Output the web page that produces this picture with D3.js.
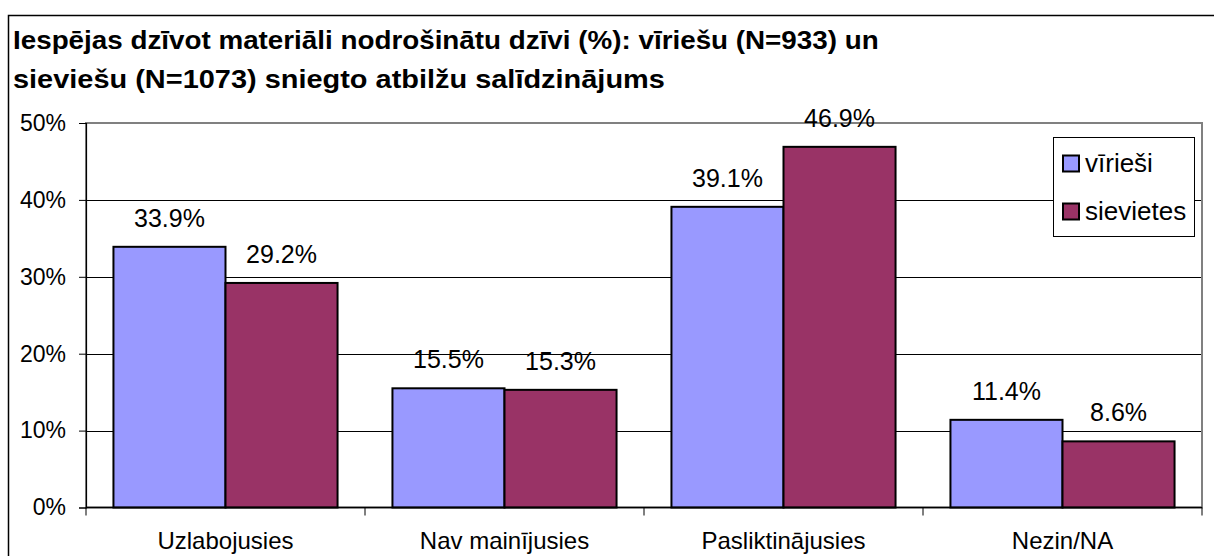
<!DOCTYPE html>
<html>
<head>
<meta charset="utf-8">
<script src="https://cdn.jsdelivr.net/npm/d3@7"></script>
<style>
  html, body { margin: 0; padding: 0; background: #fff; }
  svg { display: block; font-family: Arial, "Liberation Sans", sans-serif; }
</style>
</head>
<body>
<svg id="chart" width="1214" height="556"></svg>
<script>
const titleLines = [
  "Iespējas dzīvot materiāli nodrošinātu dzīvi (%): vīriešu (N=933) un",
  "sieviešu (N=1073) sniegto atbilžu salīdzinājums"
];
const categories = ["Uzlabojusies", "Nav mainījusies", "Pasliktinājusies", "Nezin/NA"];
const seriesNames = ["vīrieši", "sievietes"];
const valuesMen = [33.9, 15.5, 39.1, 11.4];
const valuesWomen = [29.2, 15.3, 46.9, 8.6];
const yTicks = [0, 10, 20, 30, 40, 50];
const colors = ["#9999FF", "#993366"];

const svg = d3.select("#chart");
const W = 1214, H = 556;
const plot = { left: 86, right: 1202, top: 123, bottom: 507.5 };

// outer chart frame (cropped at right/bottom)
svg.append("path")
  .attr("d", `M8.5,${H + 2}V15.5H${W + 2}`)
  .attr("fill", "none").attr("stroke", "#000").attr("stroke-width", 1.5);

// title (each line stretched to the reference's width)
const titleWidths = [866, 652];
svg.append("g").selectAll("text").data(titleLines).join("text")
  .attr("x", 13).attr("y", (d, i) => 49 + i * 39.5)
  .attr("font-size", 26).attr("font-weight", "bold").attr("fill", "#000")
  .text(d => d)
  .each(function(d, i) {
    const w = this.getComputedTextLength();
    if (w > 0) {
      const s = titleWidths[i] / w;
      d3.select(this).attr("transform", `translate(13,0) scale(${s},1) translate(-13,0)`);
    }
  });

const y = d3.scaleLinear().domain([0, 50]).range([plot.bottom, plot.top]);
const x0 = d3.scaleBand().domain(categories).range([plot.left, plot.right]).padding(0);
const x1 = d3.scaleBand().domain(seriesNames).range([0, x0.bandwidth()])
  .paddingInner(0).paddingOuter(0.245);

// gridlines
svg.append("g").selectAll("line").data(yTicks.filter(t => t > 0 && t < 50)).join("line")
  .attr("x1", plot.left).attr("x2", plot.right)
  .attr("y1", d => Math.round(y(d)) + 0.5).attr("y2", d => Math.round(y(d)) + 0.5)
  .attr("stroke", "#000").attr("stroke-width", 1);

// plot area border (gray)
svg.append("rect")
  .attr("x", plot.left).attr("y", plot.top)
  .attr("width", plot.right - plot.left).attr("height", plot.bottom - plot.top)
  .attr("fill", "none").attr("stroke", "#808080").attr("stroke-width", 2);

// y axis
const yAxis = d3.axisLeft(y).tickValues(yTicks).tickSize(7).tickPadding(13)
  .tickFormat(d => d + "%");
const gy = svg.append("g").attr("transform", `translate(${plot.left},0)`).call(yAxis);
gy.select(".domain").attr("stroke", "#000").attr("stroke-width", 1.2);
gy.selectAll(".tick line").attr("stroke", "#000");
gy.selectAll(".tick text").attr("font-size", 23).attr("fill", "#000")
  .attr("font-family", "Arial, 'Liberation Sans', sans-serif");

// bars
const data = categories.map((c, i) => ({ cat: c, vals: [valuesMen[i], valuesWomen[i]] }));
const groups = svg.append("g").selectAll("g").data(data).join("g")
  .attr("transform", d => `translate(${x0(d.cat)},0)`);
groups.selectAll("rect").data(d => d.vals.map((v, j) => ({ s: seriesNames[j], v, j }))).join("rect")
  .attr("x", d => x1(d.s)).attr("width", x1.bandwidth())
  .attr("y", d => y(d.v)).attr("height", d => y(0) - y(d.v))
  .attr("fill", d => colors[d.j]).attr("stroke", "#000").attr("stroke-width", 2);
groups.selectAll("text").data(d => d.vals.map((v, j) => ({ s: seriesNames[j], v, j }))).join("text")
  .attr("x", d => x1(d.s) + x1.bandwidth() / 2)
  .attr("y", d => y(d.v) - 20)
  .attr("text-anchor", "middle").attr("font-size", 25).attr("fill", "#000")
  .text(d => d.v.toFixed(1) + "%");

// x axis
svg.append("line").attr("x1", plot.left).attr("x2", plot.right)
  .attr("y1", plot.bottom).attr("y2", plot.bottom)
  .attr("stroke", "#000").attr("stroke-width", 1.5);
const boundaries = categories.map(c => x0(c)).concat([plot.right]);
svg.append("g").selectAll("line").data(boundaries).join("line")
  .attr("x1", d => d).attr("x2", d => d)
  .attr("y1", plot.bottom).attr("y2", plot.bottom + 8)
  .attr("stroke", "#000").attr("stroke-width", 1);
svg.append("g").selectAll("text").data(categories).join("text")
  .attr("x", d => x0(d) + x0.bandwidth() / 2).attr("y", 549)
  .attr("text-anchor", "middle").attr("font-size", 24).attr("fill", "#000")
  .text(d => d);

// legend
const lg = svg.append("g");
lg.append("rect").attr("x", 1053.5).attr("y", 137.5).attr("width", 141).attr("height", 99)
  .attr("fill", "#fff").attr("stroke", "#000").attr("stroke-width", 1);
const items = lg.selectAll("g").data(seriesNames).join("g")
  .attr("transform", (d, i) => `translate(0,${i * 48})`);
items.append("rect").attr("x", 1063).attr("y", 155.5).attr("width", 16).attr("height", 16)
  .attr("fill", (d, i) => colors[i]).attr("stroke", "#000").attr("stroke-width", 2);
items.append("text").attr("x", 1085).attr("y", 172).attr("font-size", 26).attr("fill", "#000")
  .text(d => d);
</script>
</body>
</html>
